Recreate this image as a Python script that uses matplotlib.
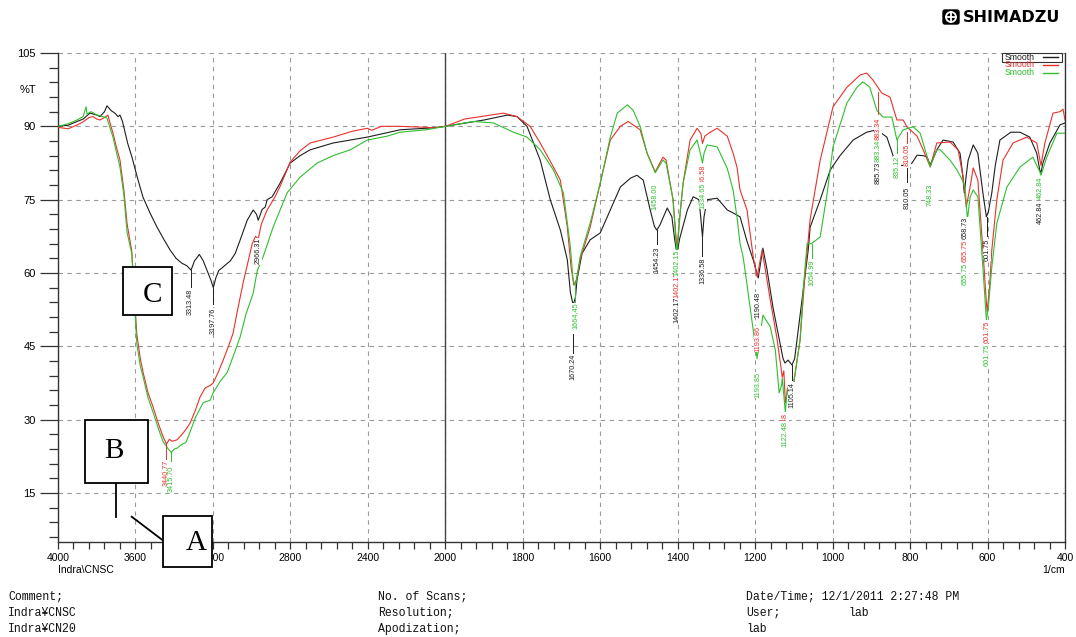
import numpy as np
import matplotlib
matplotlib.use("Agg")
import matplotlib.pyplot as plt
from matplotlib.patches import Rectangle, Circle, FancyBboxPatch
from matplotlib.lines import Line2D
from matplotlib.ticker import FixedLocator, MultipleLocator
from matplotlib.transforms import IdentityTransform

# ---- spectra (wavenumber 1/cm, %T) ----
black_wn = [4000, 3950, 3900, 3870, 3835, 3800, 3783, 3760, 3747, 3725, 3706, 3690, 3680, 3667,
            3654, 3640, 3618, 3590, 3561, 3525, 3489, 3455, 3421, 3390, 3360, 3335, 3313, 3295,
            3270, 3250, 3230, 3210, 3198, 3185, 3170, 3140, 3110, 3085, 3059, 3023, 2992, 2975,
            2966, 2946, 2930, 2920, 2894, 2853, 2801, 2750, 2698, 2579, 2403, 2233, 2062, 2000,
            1900, 1840, 1815, 1789, 1755, 1729, 1703, 1685, 1677, 1670, 1664, 1660, 1647, 1626,
            1600, 1574, 1548, 1522, 1505, 1489, 1471, 1460, 1454, 1446, 1427, 1415, 1408, 1402,
            1395, 1375, 1360, 1345, 1340, 1336, 1332, 1324, 1298, 1272, 1257, 1239, 1221, 1205,
            1192, 1180, 1170, 1154, 1136, 1128, 1123, 1115, 1105, 1098, 1092, 1076, 1063, 1058,
            1032, 1006, 981, 947, 912, 886, 860, 848, 840, 830, 810, 795, 782, 765, 756, 748,
            731, 715, 689, 671, 664, 660, 655, 650, 637, 625, 612, 603, 598, 589, 580, 568, 540,
            516, 491, 473, 465, 462, 457, 439, 413, 400]
black_t = [90.0, 90.2, 91.0, 91.5, 92.7, 92.3, 92.0, 93.0, 94.2, 93.2, 92.7, 92.0, 92.3, 91.0,
           88.8, 86.5, 83.7, 79.5, 75.5, 72.3, 69.4, 67.0, 64.7, 63.0, 62.0, 61.5, 60.6, 62.5,
           63.8, 62.5, 60.5, 58.5, 57.0, 59.0, 60.5, 61.5, 62.5, 64.0, 66.8, 70.8, 72.9, 72.0,
           70.8, 73.0, 73.5, 75.0, 75.6, 78.4, 82.5, 84.0, 85.2, 86.6, 87.8, 89.3, 89.7, 90.0,
           91.3, 92.3, 92.0, 90.0, 83.1, 75.0, 68.8, 62.7, 56.0, 53.5, 55.0, 58.6, 64.0, 66.8,
           68.2, 72.9, 77.6, 79.4, 80.0, 79.0, 72.9, 69.5, 68.8, 69.8, 73.3, 71.5, 67.0, 64.0,
           67.0, 72.9, 75.6, 75.0, 71.0, 67.4, 71.5, 75.0, 75.3, 72.9, 72.3, 71.5, 66.5, 62.7,
           59.0, 65.1, 61.0, 53.0, 45.7, 42.5, 41.6, 42.2, 41.2, 42.5, 46.3, 56.5, 64.7, 69.4,
           75.0, 81.1, 84.0, 87.2, 88.8, 89.3, 87.8, 85.0, 83.0, 82.0, 82.0, 82.5, 84.1, 84.0,
           83.7, 82.1, 85.2, 87.2, 86.8, 84.5, 80.0, 76.4, 80.0, 83.1, 86.2, 84.5, 76.4, 71.5,
           72.5, 76.4, 82.0, 87.2, 88.8, 88.8, 87.8, 84.5, 81.0, 80.5, 82.5, 86.6, 90.3, 90.7]

red_wn = [4000, 3948, 3900, 3871, 3840, 3819, 3800, 3783, 3760, 3742, 3730, 3716, 3700, 3680,
          3660, 3643, 3619, 3605, 3593, 3575, 3560, 3535, 3509, 3480, 3457, 3445, 3440, 3425,
          3410, 3385, 3360, 3340, 3318, 3290, 3266, 3240, 3215, 3199, 3175, 3147, 3120, 3096,
          3075, 3044, 2997, 2980, 2966, 2950, 2920, 2879, 2850, 2801, 2750, 2698, 2579, 2480,
          2403, 2380, 2330, 2233, 2100, 2062, 2000, 1950, 1884, 1850, 1815, 1781, 1755, 1721,
          1703, 1685, 1675, 1668, 1662, 1652, 1626, 1600, 1574, 1548, 1528, 1515, 1497, 1479,
          1458, 1438, 1430, 1412, 1402, 1394, 1386, 1368, 1350, 1340, 1336, 1330, 1316, 1298,
          1272, 1257, 1247, 1239, 1221, 1205, 1195, 1182, 1161, 1143, 1130, 1126, 1122, 1115,
          1102, 1084, 1071, 1058, 1032, 999, 963, 929, 912, 896, 873, 852, 834, 818, 808, 782,
          765, 748, 731, 697, 676, 663, 655, 645, 637, 625, 612, 603, 601, 595, 589, 576, 560,
          534, 499, 473, 462, 452, 431, 413, 405, 400]
red_t = [89.8, 89.5, 90.3, 90.9, 91.8, 92.0, 91.5, 91.3, 91.8, 92.3, 90.5, 88.6, 86.0, 83.1,
         77.0, 70.0, 64.5, 55.0, 47.5, 42.5, 39.6, 35.5, 32.6, 29.0, 26.5, 25.5, 25.0, 26.0,
         25.6, 25.9, 27.0, 28.0, 29.3, 32.0, 34.7, 36.5, 37.0, 37.5, 39.5, 42.2, 45.0, 47.7,
         52.0, 58.0, 66.0, 67.5, 67.0, 70.0, 72.9, 75.6, 78.0, 82.7, 85.0, 86.6, 87.8, 89.0,
         89.6, 89.2, 90.0, 90.0, 89.8, 89.7, 90.0, 91.5, 92.3, 92.7, 92.0, 90.0, 86.6, 81.7,
         79.0, 69.4, 61.0, 57.5, 58.5, 62.7, 69.4, 78.4, 87.2, 90.0, 91.0, 90.3, 89.3, 84.5,
         80.7, 83.7, 83.1, 75.0, 65.0, 72.0, 78.4, 87.2, 89.6, 88.5, 86.5, 88.0, 88.8, 89.6,
         88.0, 84.5, 81.7, 77.0, 72.9, 63.3, 59.2, 64.7, 54.5, 46.3, 38.7, 40.0, 33.5, 36.7,
         36.7, 46.3, 60.0, 71.0, 83.1, 94.0, 98.0, 100.5, 100.9, 99.5, 96.8, 96.0, 91.3, 91.3,
         89.9, 88.0, 85.0, 81.7, 86.6, 86.8, 85.2, 79.6, 73.5, 77.6, 81.5, 79.0, 64.7, 54.0,
         52.0, 57.0, 64.7, 75.0, 83.1, 86.6, 87.8, 86.6, 82.0, 86.6, 92.7, 93.0, 93.5, 91.3]

green_wn = [4000, 3950, 3902, 3870, 3855, 3850, 3830, 3798, 3770, 3747, 3730, 3716, 3700, 3680,
            3660, 3643, 3619, 3605, 3593, 3575, 3559, 3535, 3509, 3480, 3457, 3430, 3415, 3400,
            3385, 3360, 3340, 3318, 3290, 3250, 3214, 3199, 3160, 3127, 3095, 3059, 3030, 2992,
            2971, 2941, 2889, 2817, 2750, 2662, 2580, 2491, 2403, 2300, 2233, 2100, 2000, 1928,
            1876, 1824, 1789, 1755, 1721, 1695, 1677, 1670, 1664, 1658, 1652, 1626, 1600, 1574,
            1556, 1530, 1515, 1497, 1479, 1458, 1438, 1430, 1412, 1402, 1394, 1386, 1368, 1350,
            1340, 1336, 1332, 1324, 1298, 1272, 1257, 1247, 1239, 1231, 1213, 1195, 1180, 1161,
            1148, 1138, 1132, 1130, 1122, 1117, 1102, 1084, 1076, 1066, 1055, 1032, 1014, 999,
            963, 937, 922, 904, 886, 870, 847, 834, 818, 792, 774, 748, 731, 722, 697, 679, 665,
            658, 652, 645, 637, 625, 612, 603, 598, 589, 576, 550, 516, 483, 465, 462, 447, 421,
            400]
green_t = [90.0, 90.5, 91.3, 92.0, 94.0, 92.5, 93.0, 92.3, 92.0, 91.7, 89.5, 87.8, 85.0, 81.7,
           76.0, 68.2, 64.0, 54.0, 45.5, 41.0, 38.5, 34.5, 31.5, 28.0, 25.5, 24.0, 23.3, 24.0,
           24.2, 25.0, 25.3, 27.5, 30.5, 33.5, 34.0, 35.5, 38.0, 39.6, 43.0, 47.0, 51.5, 55.9,
           60.5, 63.3, 69.4, 76.4, 79.6, 82.5, 84.0, 85.2, 87.2, 88.0, 88.8, 89.3, 90.0, 91.0,
           90.7, 88.8, 87.8, 85.2, 81.1, 76.4, 65.3, 58.5, 57.5, 60.0, 63.3, 70.2, 78.4, 87.8,
           92.7, 94.4, 93.3, 90.0, 84.5, 80.5, 83.1, 82.5, 75.0, 63.8, 72.0, 78.4, 85.2, 87.2,
           84.0, 82.5, 84.5, 86.2, 85.8, 81.4, 77.0, 71.5, 66.0, 63.3, 53.0, 42.5, 51.4, 49.0,
           44.3, 35.5, 37.0, 38.5, 31.5, 36.5, 36.7, 46.3, 56.5, 66.0, 66.0, 67.4, 76.4, 85.8,
           94.8, 98.0, 99.1, 98.0, 93.3, 91.9, 91.9, 87.2, 89.3, 89.9, 88.6, 81.7, 85.2, 85.2,
           83.1, 81.1, 79.0, 77.6, 71.0, 75.5, 77.0, 75.6, 61.2, 50.4, 53.0, 61.2, 70.2, 77.6,
           81.7, 83.7, 80.7, 80.0, 83.7, 88.6, 88.6]

# peak labels: (wavenumber, %T of label centre, text, series)
peak_labels = [
    (3441, 19.1, "3440.77", "r"), (3416, 18.0, "3415.70", "g"),
    (3316, 54.1, "3313.48", "k"), (3199, 50.2, "3197.76", "k"),
    (2966, 64.5, "2966.31", "k"),
    (1670, 40.8, "1670.24", "k"), (1664, 51.2, "1664.45", "g"),
    (1458, 75.6, "1458.00", "g"), (1453, 62.7, "1454.23", "k"),
    (1401, 52.5, "1402.17", "k"), (1401, 57.5, "1402.15", "r"), (1401, 62.0, "1402.15", "g"),
    (1335, 60.4, "1336.58", "k"), (1335, 79.5, "1336.58", "r"), (1335, 75.8, "1334.65", "g"),
    (1193, 53.5, "1190.48", "k"), (1193, 46.5, "1193.86", "r"), (1193, 37.1, "1193.85", "g"),
    (1105, 35.0, "1105.14", "k"),
    (1123, 28.8, "1122.48", "r"), (1123, 27.0, "1122.48", "g"),
    (1054, 60.0, "1054.99", "g"),
    (883, 80.5, "885.73", "k"), (883, 85.0, "883.34", "g"), (883, 89.5, "883.34", "r"),
    (834, 81.7, "835.12", "g"),
    (808, 84.1, "810.05", "r"), (808, 75.3, "810.05", "k"),
    (749, 76.0, "748.33", "g"),
    (658, 69.2, "658.73", "k"), (657, 64.5, "655.75", "r"), (657, 59.8, "655.75", "g"),
    (601, 64.7, "601.75", "k"), (601, 48.0, "601.75", "r"), (601, 43.2, "601.75", "g"),
    (464, 72.3, "462.84", "k"), (464, 77.4, "462.84", "g"),
]
# leader lines: (wavenumber, %T from, %T to, series)
leaders = [
    (3441, 25.0, 21.8, "r"), (3416, 23.3, 21.6, "g"), (3313, 60.6, 56.8, "k"),
    (3198, 57.0, 53.6, "k"), (1670, 47.5, 43.5, "k"), (1664, 57.3, 54.0, "g"),
    (1454, 68.8, 66.0, "k"), (1336, 67.4, 63.4, "k"), (1105, 41.2, 38.2, "k"),
    (1054, 66.0, 63.0, "g"), (883, 97.0, 92.6, "r"), (808, 88.8, 86.6, "r"),
    (808, 81.5, 78.6, "k"), (834, 87.2, 84.6, "g"), (601, 71.5, 67.6, "k"),
]

COL = {"k": "#1e1e1e", "r": "#e8312c", "g": "#2fbf2f"}
W, H = 1076, 637


def fwd(w):
    w = np.asarray(w, dtype=float)
    return np.where(w >= 2000, (4000 - w) / 400, 5 + (2000 - w) / 200)


def inv(u):
    u = np.asarray(u, dtype=float)
    return np.where(u <= 5, 4000 - 400 * u, 2000 - 200 * (u - 5))


fig = plt.figure(figsize=(W / 100, H / 100), dpi=100)
ax = fig.add_axes([58 / W, 1 - 542 / H, (1065 - 58) / W, (542 - 53) / H])
ax.set_xscale("function", functions=(fwd, inv))

ax.plot(black_wn, black_t, color=COL["k"], lw=0.8, zorder=3)
ax.plot(red_wn, red_t, color=COL["r"], lw=0.8, zorder=3)
ax.plot(green_wn, green_t, color=COL["g"], lw=0.8, zorder=3)

# forward scale is decreasing, so this order puts 4000 on the left
ax.set_xlim(400, 4000)
ax.set_ylim(5, 105)

xmaj = [4000, 3600, 3200, 2800, 2400, 2000, 1800, 1600, 1400, 1200, 1000, 800, 600, 400]
ax.xaxis.set_major_locator(FixedLocator(xmaj))
ax.xaxis.set_minor_locator(FixedLocator(np.concatenate([np.arange(3920, 2000, -80),
                                                        np.arange(1960, 400, -40)])))
ax.set_xticklabels([str(v) for v in xmaj])
ax.yaxis.set_major_locator(FixedLocator([15, 30, 45, 60, 75, 90, 105]))
ax.yaxis.set_minor_locator(MultipleLocator(3))

ax.grid(which="major", color="#9a9a9a", ls=(0, (4, 4)), lw=0.8, zorder=0)
ax.axvline(2000, color="#444444", lw=1.0, zorder=2)

for s in ["left", "right", "bottom"]:
    ax.spines[s].set_color("#333333")
    ax.spines[s].set_linewidth(1.0)
ax.spines["top"].set_visible(False)

ax.tick_params(axis="y", which="major", direction="out", length=13, width=0.9,
               color="#333333", pad=3, labelsize=8)
ax.tick_params(axis="y", which="minor", direction="out", length=6.5, width=0.9, color="#333333")
ax.tick_params(axis="x", which="both", direction="out", length=5, width=0.9,
               color="#333333", pad=3, labelsize=7.5)
for lab in ax.get_xticklabels() + ax.get_yticklabels():
    lab.set_fontfamily("Liberation Sans")

# peak labels
for wn, t, txt_, s in peak_labels:
    ax.text(wn, t, txt_, rotation=90, ha="center", va="center", fontsize=5.2,
            family="Liberation Sans", color=COL[s], zorder=5,
            bbox=dict(fc="white", ec="none", pad=0.15))
for wn, t0, t1, s in leaders:
    ax.plot([wn, wn], [t0, t1], color=COL[s], lw=0.7, zorder=4)

# ---- figure level decoration, pixel coordinates from top-left ----
ID = IdentityTransform()


def P(x, y):
    return x, H - y


def txt(x, y, s, **kw):
    fig.text(*P(x, y), s, transform=ID, **kw)


txt(28, 90, "%T", ha="center", va="center", fontsize=8, family="Liberation Sans")
txt(58, 570, "Indra\\CNSC", ha="left", va="center", fontsize=7.5, family="Liberation Sans")
txt(1065, 570, "1/cm", ha="right", va="center", fontsize=7.5, family="Liberation Sans")

# legend
fig.add_artist(Rectangle(P(1002, 61.5), 60, 9, transform=ID, fc="white", ec="#333333", lw=0.8))
for i, s in enumerate(["k", "r", "g"]):
    yy = 57 + i * 7.8
    txt(1005, yy, "Smooth", ha="left", va="center", fontsize=6.3,
        family="Liberation Sans", color=COL[s])
    fig.add_artist(Line2D([1043, 1058], [H - yy, H - yy], transform=ID, color=COL[s], lw=1.0))

# logo
fig.add_artist(FancyBboxPatch(P(943, 24), 16, 14, boxstyle="round,pad=0,rounding_size=2",
                              transform=ID, fc="black", ec="black"))
fig.add_artist(Circle(P(951, 17), 5, transform=ID, fc="none", ec="white", lw=1.3))
fig.add_artist(Line2D([946, 956], [H - 17, H - 17], transform=ID, color="white", lw=1.3))
fig.add_artist(Line2D([951, 951], [H - 12, H - 22], transform=ID, color="white", lw=1.3))
txt(963, 17, "SHIMADZU", ha="left", va="center", fontsize=11.5, weight="heavy",
    family="DejaVu Sans")

# letter boxes
boxes = [(123, 267, 172, 315, "C", 153, 295), (85, 420, 148, 483, "B", 114, 451),
         (163, 516, 212, 567, "A", 196, 543)]
for x0, y0, x1, y1, letter, lx, ly in boxes:
    fig.add_artist(Rectangle(P(x0, y1), x1 - x0, y1 - y0, transform=ID, fc="white",
                             ec="black", lw=1.3, zorder=6))
    fig.text(*P(lx, ly), letter, transform=ID, ha="center", va="center", fontsize=21,
             family="Liberation Serif", zorder=7)
fig.add_artist(Line2D([115.5, 115.5], [H - 483, H - 517], transform=ID, color="black", lw=1.3))
fig.add_artist(Line2D([131.7, 163.3], [H - 516.7, H - 540.7], transform=ID, color="black", lw=1.3))

# footer
foot = dict(ha="left", va="center", fontsize=8.3, family="Liberation Mono", color="#111111")
txt(8, 597, "Comment;", **foot)
txt(8, 613, "Indra\u00a5CNSC", **foot)
txt(8, 629, "Indra\u00a5CN20", **foot)
txt(378, 597, "No. of Scans;", **foot)
txt(378, 613, "Resolution;", **foot)
txt(378, 629, "Apodization;", **foot)
txt(746, 597, "Date/Time; 12/1/2011 2:27:48 PM", **foot)
txt(746, 613, "User;", **foot)
txt(848, 613, "lab", **foot)
txt(746, 629, "lab", **foot)

fig.savefig("out.png", dpi=100)
